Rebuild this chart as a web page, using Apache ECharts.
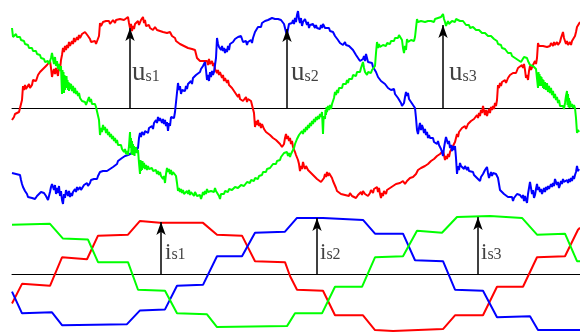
<!DOCTYPE html>
<html><head><meta charset="utf-8">
<script src="https://cdn.jsdelivr.net/npm/echarts@6/dist/echarts.min.js"></script>
<style>html,body{margin:0;padding:0;background:#fff}#c{width:580px;height:333px}</style>
</head><body><div id="c"></div>
<script>
// Phase voltages (top panel), [time, value] readings incl. PWM ripple
var us1 = [[12,-12],[14,-9],[15,-6],[17,-8],[19,-4],[20,-2],[21,-5],[22,8],[23,22],[24,18],[25,23],[26,19],[28,21],[29,24],[30,20],[32,23],[33,28],[35,30],[36,27],[38,33],[40,36],[42,35],[43,39],[45,41],[47,43],[49,44],[50,47],[51,40],[52,31],[53,36],[54,39],[55,34],[56,40],[57,36],[58,32],[59,42],[60,38],[61,48],[62,53],[63,60],[64,56],[65,62],[66,58],[67,63],[68,60],[69,66],[70,62],[72,67],[73,64],[74,70],[75,66],[77,71],[78,68],[79,73],[80,70],[82,74],[84,72],[85,76],[87,75],[88,72],[89,74],[90,69],[91,66],[93,65],[95,67],[96,64],[98,66],[99,72],[100,85],[101,82],[103,86],[104,84],[106,87],[107,85],[109,87],[110,84],[112,86],[113,88],[115,85],[116,88],[118,86],[120,89],[122,87],[124,88],[126,86],[128,91],[129,85],[130,80],[131,84],[132,77],[133,82],[134,79],[135,84],[137,82],[138,87],[139,83],[141,88],[143,91],[144,85],[145,88],[146,82],[147,80],[149,83],[150,80],[152,82],[153,78],[155,81],[157,78],[158,80],[160,77],[162,79],[163,76],[165,78],[167,75],[168,77],[170,76],[172,72],[174,74],[175,70],[176,67],[178,66],[180,64],[182,65],[184,62],[186,63],[188,60],[190,61],[192,59],[194,57],[195,58],[196,54],[197,50],[198,48],[200,47],[202,46],[204,47],[205,45],[207,47],[208,43],[209,49],[210,44],[212,47],[213,42],[214,45],[215,39],[216,41],[217,35],[218,38],[219,33],[220,36],[222,30],[223,33],[224,27],[225,30],[227,25],[228,28],[229,23],[230,25],[232,20],[233,22],[234,17],[236,15],[238,11],[239,14],[240,9],[242,10],[243,7],[245,8],[246,11],[247,6],[248,9],[250,11],[251,7],[252,9],[253,5],[254,-5],[255,-19],[256,-13],[257,-17],[258,-12],[259,-18],[260,-15],[261,-20],[262,-16],[264,-21],[265,-19],[266,-24],[268,-22],[270,-27],[272,-25],[273,-30],[275,-28],[276,-32],[278,-33],[280,-36],[281,-34],[282,-39],[283,-41],[284,-36],[285,-30],[286,-26],[287,-31],[288,-28],[289,-33],[290,-30],[291,-36],[292,-33],[293,-39],[294,-37],[295,-44],[296,-47],[297,-45],[298,-52],[299,-56],[300,-63],[301,-58],[302,-61],[303,-54],[304,-58],[305,-61],[306,-58],[308,-62],[310,-61],[311,-65],[313,-64],[314,-68],[316,-67],[317,-71],[319,-70],[321,-74],[322,-72],[323,-75],[324,-70],[325,-66],[326,-69],[327,-64],[328,-68],[329,-65],[330,-67],[332,-70],[333,-73],[334,-75],[336,-80],[337,-83],[339,-84],[341,-86],[343,-85],[345,-87],[347,-86],[349,-88],[350,-85],[352,-88],[354,-87],[356,-90],[357,-91],[358,-87],[360,-89],[361,-84],[362,-87],[363,-83],[365,-86],[367,-84],[368,-88],[370,-85],[371,-82],[373,-85],[374,-81],[376,-83],[377,-79],[378,-84],[379,-80],[380,-86],[381,-90],[382,-85],[383,-88],[384,-83],[386,-86],[387,-82],[389,-84],[390,-80],[392,-81],[393,-78],[395,-80],[396,-76],[398,-78],[400,-75],[402,-76],[403,-73],[405,-76],[407,-73],[409,-74],[410,-70],[412,-72],[413,-69],[415,-70],[416,-66],[418,-62],[420,-63],[421,-60],[423,-61],[425,-58],[426,-60],[428,-56],[430,-57],[431,-53],[433,-55],[434,-51],[436,-52],[437,-48],[439,-50],[440,-46],[441,-48],[442,-44],[443,-43],[444,-47],[445,-52],[446,-48],[447,-51],[448,-46],[449,-49],[450,-44],[452,-42],[453,-38],[454,-40],[455,-34],[456,-30],[457,-26],[458,-29],[459,-24],[460,-26],[462,-20],[463,-22],[465,-18],[466,-21],[468,-16],[470,-17],[471,-13],[473,-15],[474,-11],[476,-12],[477,-7],[478,-10],[479,-5],[480,-8],[481,-2],[482,-5],[483,2],[484,-3],[485,-7],[486,-2],[487,-8],[488,-4],[489,-1],[490,-5],[491,1],[492,-2],[493,2],[494,-1],[495,5],[496,2],[497,8],[498,23],[499,20],[500,25],[501,22],[502,26],[503,24],[505,28],[506,25],[508,30],[509,28],[510,33],[512,31],[513,35],[515,37],[516,35],[518,40],[519,38],[520,42],[522,43],[523,40],[524,44],[525,38],[526,30],[527,33],[528,28],[529,37],[530,42],[531,38],[533,43],[534,41],[535,47],[536,44],[537,50],[538,65],[539,62],[540,64],[541,60],[543,62],[544,60],[545,64],[547,61],[548,63],[550,62],[551,65],[553,62],[554,66],[555,63],[557,66],[558,63],[560,66],[561,70],[562,73],[563,76],[564,70],[565,67],[566,64],[567,67],[568,63],[570,66],[571,63],[572,67],[573,65],[574,69],[575,72],[576,76],[577,81],[578,79],[579,83],[580,86]];
var us2 = [[12,-65],[14,-63],[16,-66],[18,-64],[20,-67],[21,-72],[22,-76],[23,-79],[25,-83],[27,-86],[28,-89],[30,-88],[32,-90],[34,-89],[35,-91],[37,-88],[39,-87],[41,-84],[42,-86],[44,-85],[46,-88],[47,-90],[48,-92],[49,-88],[50,-84],[51,-79],[52,-76],[53,-74],[54,-82],[55,-77],[56,-86],[57,-80],[58,-85],[59,-78],[60,-88],[61,-83],[62,-92],[63,-96],[64,-86],[65,-90],[66,-82],[67,-85],[68,-88],[69,-83],[70,-89],[71,-85],[72,-88],[73,-84],[74,-86],[75,-81],[76,-84],[77,-79],[78,-82],[80,-79],[81,-82],[83,-80],[84,-77],[86,-79],[87,-75],[88,-78],[90,-75],[91,-72],[93,-74],[94,-71],[96,-73],[97,-71],[98,-68],[99,-66],[100,-64],[102,-66],[103,-63],[105,-65],[107,-63],[108,-65],[110,-61],[112,-62],[113,-59],[115,-57],[117,-56],[118,-53],[120,-52],[122,-50],[123,-52],[125,-48],[127,-50],[128,-47],[130,-48],[132,-45],[134,-47],[135,-44],[137,-45],[138,-40],[139,-30],[140,-25],[141,-29],[142,-24],[144,-27],[145,-23],[147,-22],[148,-25],[149,-20],[150,-21],[152,-18],[153,-21],[154,-15],[155,-17],[156,-12],[157,-15],[158,-9],[159,-13],[160,-10],[162,-15],[163,-11],[164,-16],[165,-12],[166,-18],[167,-14],[168,-23],[169,-15],[170,-18],[171,-9],[172,-7],[174,-10],[175,-4],[176,-6],[177,-2],[178,25],[179,18],[180,22],[181,14],[182,18],[184,20],[185,17],[186,22],[187,19],[188,24],[190,22],[191,27],[192,24],[193,30],[195,29],[196,33],[197,31],[198,35],[200,36],[201,39],[202,37],[203,42],[204,40],[205,46],[206,38],[207,28],[208,33],[209,27],[210,36],[211,31],[212,37],[213,33],[214,36],[215,34],[216,50],[217,70],[218,64],[219,61],[220,63],[221,58],[222,62],[223,57],[224,60],[225,55],[226,59],[227,56],[228,62],[229,58],[230,64],[232,62],[233,66],[234,64],[235,69],[237,67],[238,71],[240,69],[241,72],[242,70],[243,66],[244,68],[245,64],[246,67],[247,63],[248,66],[250,64],[251,68],[252,65],[253,70],[254,72],[255,76],[256,78],[257,76],[258,81],[260,83],[261,81],[262,85],[264,84],[265,87],[267,86],[268,88],[270,87],[272,90],[274,88],[275,89],[277,87],[278,89],[280,87],[281,88],[283,86],[284,84],[285,80],[286,76],[287,73],[288,79],[289,84],[290,86],[291,82],[292,85],[293,88],[294,84],[295,90],[296,86],[297,93],[298,97],[299,89],[300,85],[301,90],[302,82],[303,86],[304,84],[305,89],[306,86],[307,83],[308,86],[309,80],[310,83],[312,81],[313,84],[315,80],[316,83],[317,80],[319,82],[320,79],[321,83],[322,80],[323,84],[325,80],[326,82],[327,79],[329,80],[330,77],[331,79],[332,75],[333,76],[335,72],[336,70],[338,68],[339,66],[340,65],[342,66],[343,63],[345,66],[346,63],[347,65],[349,62],[350,60],[351,62],[353,58],[354,56],[356,53],[358,50],[359,51],[360,47],[361,49],[362,45],[363,49],[364,52],[365,47],[366,54],[367,50],[368,46],[369,48],[370,44],[372,45],[373,41],[375,39],[376,36],[377,34],[378,31],[380,30],[381,27],[382,29],[383,25],[385,24],[386,22],[387,24],[388,20],[390,21],[391,18],[393,17],[394,19],[395,14],[397,12],[398,10],[399,8],[401,5],[402,2],[403,0],[404,5],[405,11],[406,16],[407,12],[408,15],[409,9],[410,11],[411,6],[412,8],[413,3],[414,5],[415,0],[416,-10],[417,-22],[418,-26],[419,-20],[420,-15],[421,-22],[422,-17],[423,-20],[424,-25],[425,-21],[426,-27],[427,-24],[428,-30],[429,-27],[430,-30],[432,-32],[433,-30],[434,-34],[436,-33],[437,-36],[438,-33],[439,-37],[440,-36],[441,-41],[442,-44],[443,-48],[444,-40],[445,-34],[446,-29],[447,-31],[448,-36],[449,-33],[450,-40],[451,-37],[452,-43],[453,-38],[454,-42],[455,-38],[456,-50],[457,-66],[458,-58],[459,-62],[460,-55],[461,-58],[462,-56],[464,-61],[465,-58],[467,-62],[468,-59],[469,-63],[470,-61],[471,-65],[473,-64],[474,-67],[476,-66],[477,-70],[478,-68],[479,-72],[480,-73],[481,-69],[482,-71],[483,-66],[484,-68],[485,-62],[486,-64],[487,-59],[488,-65],[489,-70],[490,-67],[491,-64],[492,-68],[493,-65],[494,-67],[495,-63],[496,-66],[497,-64],[498,-70],[499,-76],[500,-82],[501,-80],[502,-84],[504,-86],[505,-84],[506,-88],[508,-89],[509,-87],[510,-90],[512,-89],[513,-93],[514,-90],[515,-88],[516,-91],[517,-86],[518,-88],[519,-84],[520,-87],[521,-85],[522,-90],[523,-87],[524,-93],[525,-88],[526,-92],[527,-95],[528,-86],[529,-80],[530,-74],[531,-80],[532,-86],[533,-82],[534,-90],[535,-87],[536,-81],[537,-76],[538,-82],[539,-79],[540,-84],[541,-81],[542,-86],[543,-83],[544,-80],[545,-84],[546,-79],[547,-82],[548,-78],[549,-81],[550,-79],[551,-76],[552,-79],[553,-75],[554,-78],[555,-71],[556,-74],[557,-77],[558,-74],[559,-80],[560,-77],[561,-73],[562,-76],[563,-71],[564,-74],[565,-72],[566,-76],[567,-72],[568,-75],[569,-71],[570,-74],[571,-70],[572,-73],[573,-68],[574,-71],[575,-67],[576,-64],[577,-58],[578,-63],[579,-61],[580,-64]];
var us3 = [[12,80],[13,71],[14,73],[15,70],[16,74],[17,71],[18,72],[19,69],[20,71],[21,68],[22,70],[23,66],[24,67],[25,64],[26,66],[27,62],[28,63],[29,60],[30,61],[31,58],[32,60],[33,57],[34,58],[35,55],[36,57],[37,54],[38,55],[39,52],[40,53],[41,50],[42,51],[43,48],[44,49],[45,46],[46,47],[47,45],[48,47],[49,44],[50,46],[51,50],[52,55],[53,49],[54,44],[55,51],[56,42],[57,47],[58,39],[59,44],[60,37],[61,42],[62,14],[62.5,38],[63,17],[63.5,36],[64,15],[64.5,33],[65,18],[65.5,30],[66,20],[66.5,32],[67,22],[67.5,28],[68,18],[68.5,26],[69,17],[69.5,25],[70,19],[71,24],[72,17],[73,22],[74,15],[75,20],[76,14],[77,17],[78,12],[79,15],[80,10],[81,12],[82,7],[83,9],[84,5],[85,6],[86,3],[87,5],[88,1],[89,11],[90,6],[91,9],[92,4],[93,6],[94,2],[95,4],[96,1],[97,3],[98,0],[99,-12],[100,-27],[101,-20],[102,-24],[103,-17],[104,-22],[105,-19],[106,-25],[107,-21],[108,-27],[109,-24],[110,-29],[111,-26],[112,-31],[113,-28],[114,-33],[115,-30],[116,-35],[117,-32],[118,-37],[119,-35],[120,-39],[121,-37],[122,-41],[123,-39],[124,-44],[125,-41],[126,-46],[127,-43],[128,-47],[129,-38],[130,-24],[130.5,-40],[131,-30],[131.5,-46],[132,-33],[132.5,-47],[133,-36],[133.5,-45],[134,-38],[134.5,-48],[135,-40],[135.5,-44],[136,-39],[137,-45],[138,-42],[139,-55],[140,-66],[140.5,-52],[141,-63],[141.5,-55],[142,-62],[142.5,-53],[143,-60],[144,-55],[145,-61],[146,-57],[147,-62],[148,-58],[149,-61],[150,-59],[151,-63],[152,-60],[153,-63],[154,-61],[155,-65],[156,-62],[157,-66],[158,-63],[159,-67],[160,-64],[161,-68],[162,-66],[163,-71],[164,-68],[165,-75],[166,-66],[167,-60],[168,-64],[169,-61],[170,-66],[171,-62],[172,-67],[173,-64],[174,-66],[175,-63],[176,-68],[177,-75],[178,-83],[179,-80],[180,-84],[181,-81],[182,-85],[183,-82],[184,-86],[185,-84],[186,-87],[187,-83],[188,-86],[189,-82],[190,-87],[191,-84],[192,-86],[193,-83],[194,-88],[195,-84],[196,-86],[197,-88],[198,-86],[199,-89],[200,-87],[201,-91],[202,-88],[203,-84],[204,-87],[205,-83],[206,-86],[207,-81],[208,-84],[209,-82],[210,-86],[211,-83],[212,-85],[213,-82],[214,-84],[215,-80],[216,-83],[217,-81],[218,-85],[219,-88],[220,-91],[221,-86],[222,-88],[223,-84],[224,-86],[225,-83],[226,-85],[227,-82],[228,-84],[229,-81],[230,-83],[231,-80],[232,-82],[233,-80],[234,-82],[235,-79],[236,-81],[237,-79],[238,-80],[239,-78],[240,-80],[241,-77],[242,-78],[243,-76],[244,-78],[245,-76],[246,-77],[247,-74],[248,-76],[249,-73],[250,-75],[251,-72],[252,-74],[253,-71],[254,-73],[255,-70],[256,-72],[257,-69],[258,-71],[259,-68],[260,-69],[261,-66],[262,-67],[263,-64],[264,-65],[265,-62],[266,-64],[267,-61],[268,-62],[269,-59],[270,-60],[271,-58],[272,-59],[273,-56],[274,-57],[275,-55],[276,-56],[277,-53],[278,-54],[279,-51],[280,-52],[281,-49],[282,-50],[283,-47],[284,-45],[285,-43],[286,-46],[287,-44],[288,-48],[289,-45],[290,-49],[291,-46],[292,-48],[293,-44],[294,-40],[295,-36],[296,-34],[297,-31],[298,-33],[299,-27],[300,-25],[301,-28],[302,-23],[303,-26],[304,-21],[305,-24],[306,-19],[307,-22],[308,-17],[309,-20],[310,-15],[311,-18],[312,-13],[313,-16],[314,-11],[315,-14],[316,-9],[317,-12],[318,-8],[319,-11],[320,-6],[321,-9],[322,-4],[322.5,-15],[323,-26],[323.5,-12],[324,-8],[325,-11],[325.5,-2],[326,-7],[326.5,1],[327,-4],[328,2],[329,-2],[330,3],[331,-1],[332,4],[333,2],[334,10],[335,16],[336,13],[337,18],[338,15],[339,20],[340,18],[341,22],[342,20],[343,24],[344,22],[345,26],[346,24],[347,28],[348,25],[349,29],[350,27],[351,31],[352,29],[353,33],[354,31],[355,34],[356,32],[357,36],[358,34],[359,38],[360,36],[361,40],[362,42],[363,46],[364,40],[365,36],[366,38],[367,33],[368,36],[369,34],[370,37],[371,35],[372,38],[373,36],[374,40],[375,42],[376,55],[377,66],[378,60],[379,64],[380,61],[381,63],[382,60],[383,63],[384,61],[385,64],[386,62],[387,65],[388,63],[389,66],[390,64],[391,67],[392,65],[393,69],[394,67],[395,70],[396,68],[397,72],[398,70],[399,73],[400,71],[401,74],[402,68],[403,60],[404,55],[405,62],[406,58],[407,69],[408,66],[409,68],[410,65],[411,68],[412,66],[413,70],[414,67],[415,71],[416,80],[417,89],[418,86],[419,88],[420,85],[421,87],[422,86],[423,88],[425,86],[426,88],[428,87],[429,89],[431,87],[432,88],[434,86],[435,89],[437,88],[438,90],[440,89],[441,91],[442,90],[443,94],[444,89],[445,86],[446,82],[447,84],[448,87],[449,84],[450,86],[451,84],[452,87],[453,85],[454,88],[455,86],[456,89],[457,87],[458,89],[460,87],[461,89],[463,87],[464,88],[465,85],[466,83],[467,85],[468,81],[469,83],[470,80],[471,82],[472,80],[473,81],[474,79],[475,80],[476,78],[477,79],[478,77],[479,78],[480,76],[481,77],[482,75],[483,76],[484,74],[485,75],[486,73],[487,74],[488,72],[489,73],[490,71],[491,72],[492,70],[493,71],[494,69],[495,70],[496,68],[497,67],[498,64],[499,65],[500,62],[501,63],[502,60],[503,61],[504,58],[505,59],[506,57],[507,58],[508,55],[509,56],[510,54],[511,55],[512,52],[513,53],[514,51],[515,50],[516,49],[517,50],[518,48],[519,49],[520,47],[521,46],[522,45],[523,48],[524,51],[525,49],[526,52],[527,50],[528,47],[529,45],[530,43],[531,44],[532,41],[533,42],[534,40],[535,42],[536,39],[537,40],[538,20],[538.5,36],[539,24],[539.5,34],[540,22],[540.5,32],[541,25],[541.5,31],[542,22],[542.5,29],[543,20],[543.5,28],[544,19],[545,26],[546,18],[547,25],[548,16],[549,22],[550,15],[551,20],[552,13],[553,17],[554,10],[555,14],[556,8],[557,11],[558,5],[559,8],[560,2],[561,4],[562,0],[563,2],[564,-1],[565,5],[566,12],[567,17],[567.5,3],[568,14],[568.5,1],[569,10],[569.5,0],[570,7],[571,1],[572,4],[573,0],[574,3],[575,0],[576,-10],[577,-25],[578,-22],[579,-24],[580,-23]];
// Phase currents (bottom panel)
var is1 = [[12,-30],[22,-10],[50,-12],[62,17],[87,15],[98,39],[128,40],[140,54],[160,52],[203,52],[217,40],[242,39],[255,13],[285,12],[290,-2],[297,-16],[323,-17],[335,-42],[363,-42],[375,-57],[393,-58],[443,-56],[455,-42],[483,-42],[497,-13],[523,-13],[537,17],[565,18],[578,45],[580,47]];
var is2 = [[12,-18],[22,-40],[52,-39],[62,-52],[127,-51],[140,-37],[165,-36],[177,-12],[203,-11],[217,18],[242,18],[255,42],[285,43],[297,57],[323,57],[363,55],[375,41],[403,41],[415,14],[443,13],[455,-16],[483,-17],[497,-44],[530,-43],[538,-57],[580,-57]];
var is3 = [[12,50],[50,51],[63,36],[88,35],[98,12],[128,12],[138,-16],[165,-17],[177,-40],[207,-41],[217,-54],[287,-53],[295,-40],[322,-40],[335,-13],[362,-13],[375,17],[403,18],[417,44],[442,42],[457,58],[490,59],[522,57],[537,40],[565,41],[577,13],[580,13]];
// Arrows: [time, tip value]
var uArrows = [[130,80],[287,79],[443,83]];
var iArrows = [[161,53],[317,57],[478,58]];
// Labels: [time, value, subscript]
var uLabels = [[132,22,'s1'],[291,22,'s2'],[449,22,'s3']];
var iLabels = [[165,10,'s1'],[320,10,'s2'],[481,10,'s3']];

var RED='#ff0000', GREEN='#00ff00', BLUE='#0000ff';
var chart = echarts.init(document.getElementById('c'), null, {renderer:'canvas'});

function lineSeries(data, color, idx, w){
  return {type:'line', data:data, xAxisIndex:idx, yAxisIndex:idx, symbol:'none', silent:true,
    lineStyle:{color:color, width:w}, animation:false, z:2};
}
function arrowSeries(arr, idx){
  return {type:'line', data:[], xAxisIndex:idx, yAxisIndex:idx, silent:true, animation:false,
    markLine:{silent:true, symbol:['none','arrow'], symbolSize:[7,13], animation:false,
      lineStyle:{color:'#000', width:1.5, type:'solid'}, label:{show:false},
      data: arr.map(function(a){return [{coord:[a[0],0]},{coord:[a[0],a[1]]}];})}, z:5};
}
function labelSeries(arr, idx, main, mainSize){
  return {type:'scatter', xAxisIndex:idx, yAxisIndex:idx, symbolSize:0, silent:true, animation:false, z:6,
    data: arr.map(function(a){return {value:[a[0],a[1]], sub:a[2]};}),
    label:{show:true, position:[0,0], align:'left', verticalAlign:'bottom',
      formatter:function(p){return '{m|'+main+'}{s|'+p.data.sub+'}';},
      rich:{m:{fontFamily:'Liberation Serif', fontSize:mainSize, color:'#111', verticalAlign:'bottom'},
            s:{fontFamily:'Liberation Serif', fontSize:16, color:'#111', verticalAlign:'bottom', padding:[0,0,1,0]}}}};
}
var axX = function(idx){return {type:'value', gridIndex:idx, min:12, max:580, show:true,
  axisLine:{show:true, onZero:true, lineStyle:{color:'#000', width:1}}, axisTick:{show:false},
  axisLabel:{show:false}, splitLine:{show:false}};};
var axY = function(idx, r){return {type:'value', gridIndex:idx, min:-r, max:r, show:false,
  splitLine:{show:false}};};

chart.setOption({
  animation:false,
  backgroundColor:'#fff',
  grid:[{left:12, right:0, top:0, height:216},{left:12, right:0, top:215, height:120}],
  xAxis:[axX(0), axX(1)],
  yAxis:[axY(0,108), axY(1,60)],
  series:[
    lineSeries(us1, RED, 0, 2), lineSeries(us2, BLUE, 0, 2), lineSeries(us3, GREEN, 0, 2),
    lineSeries(is1, RED, 1, 2), lineSeries(is2, BLUE, 1, 2), lineSeries(is3, GREEN, 1, 2),
    arrowSeries(uArrows, 0), arrowSeries(iArrows, 1),
    labelSeries(uLabels, 0, 'u', 27), labelSeries(iLabels, 1, 'i', 23)
  ]
});
</script></body></html>
